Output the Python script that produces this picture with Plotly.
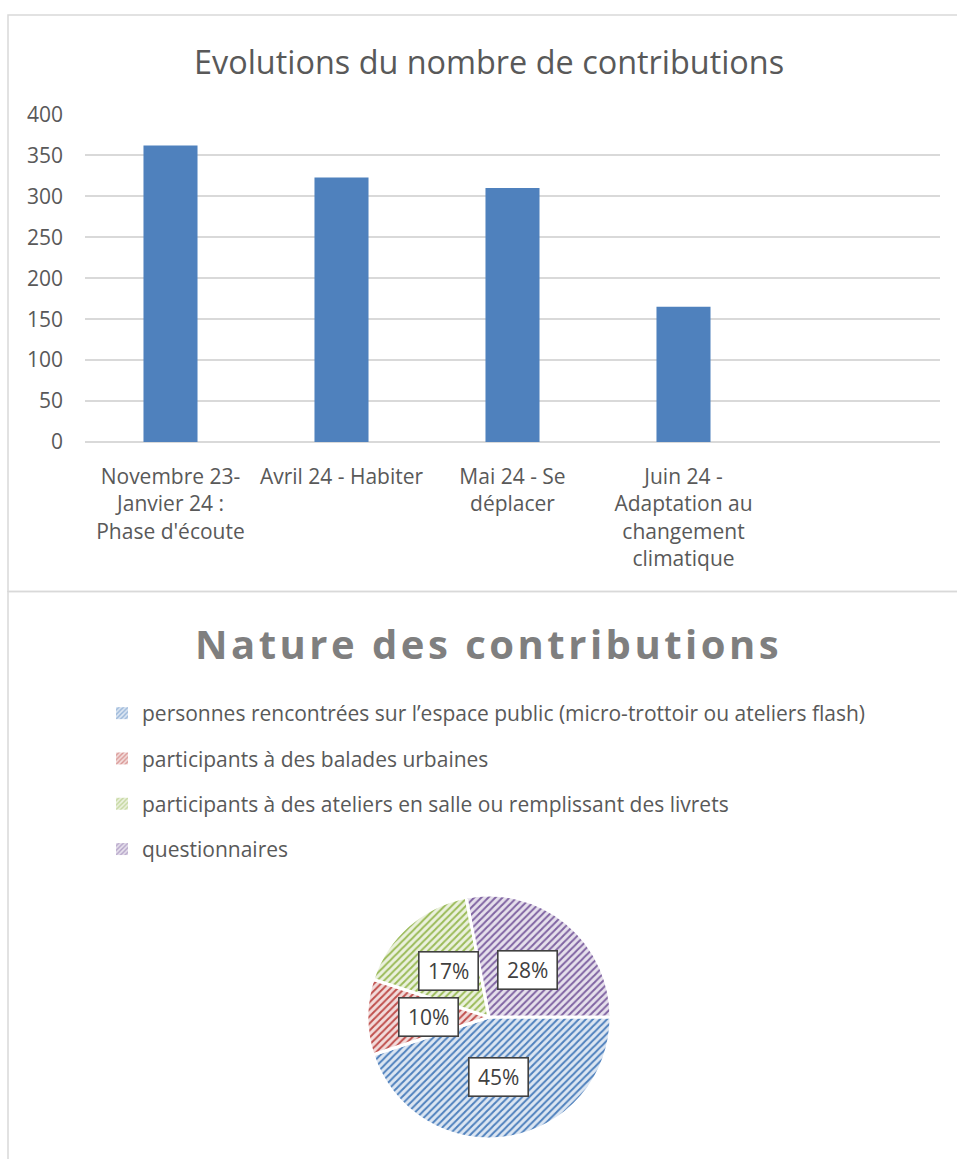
import math
import plotly.graph_objects as go

# ---------------- data ----------------
bar_categories = [
    "Novembre 23-<br>Janvier 24 :<br>Phase d'écoute",
    "Avril 24 - Habiter",
    "Mai 24 - Se<br>déplacer",
    "Juin 24 -<br>Adaptation au<br>changement<br>climatique",
]
bar_values = [362, 323, 310, 165]
y_ticks = [0, 50, 100, 150, 200, 250, 300, 350, 400]

pie_labels = [
    "personnes rencontrées sur l’espace public (micro-trottoir ou ateliers flash)",
    "participants à des balades urbaines",
    "participants à des ateliers en salle ou remplissant des livrets",
    "questionnaires",
]
pie_values = [45, 10, 17, 28]
pie_fg = ["#4F81BD", "#C0504D", "#9BBB59", "#8064A2"]
pie_bg = ["#DCE6F2", "#F2DCDB", "#EBF1DE", "#E6E0EC"]

title_bar = "Evolutions du nombre de contributions"
title_pie = "Nature des contributions"

# ---------------- layout constants ----------------
W, H = 957, 1159
FONT = "Open Sans"
TXT = "#595959"
GRID = "#D9D9D9"
FS = 21


def px_x(v):
    return v / W


def px_y(v):
    return 1 - v / H


fig = go.Figure()

fig.add_trace(go.Bar(
    x=bar_categories, y=bar_values,
    marker=dict(color="#4F81BD", line=dict(width=0)),
    showlegend=False, hoverinfo="x+y",
))

pie_dom_x = [px_x(367), px_x(611)]
pie_dom_y = [px_y(1139), px_y(895)]

fig.add_trace(go.Pie(
    labels=pie_labels, values=pie_values,
    domain=dict(x=pie_dom_x, y=pie_dom_y),
    sort=False, direction="clockwise", rotation=90,
    marker=dict(
        colors=pie_bg,
        line=dict(color="white", width=3),
        pattern=dict(shape="/", fgcolor=pie_fg, bgcolor=pie_bg, size=5, solidity=0.4),
    ),
    textinfo="none", showlegend=False, hoverinfo="label+percent",
))

# legend entries (hidden axes) so items can be spaced like the original
for lab, fg, bg in zip(pie_labels, pie_fg, pie_bg):
    fig.add_trace(go.Bar(
        x=[None], y=[None], name=lab, xaxis="x2", yaxis="y2",
        legendgroup=lab, showlegend=True,
        marker=dict(color=bg, line=dict(width=0),
                    pattern=dict(shape="/", fgcolor=fg, bgcolor=bg, size=4, solidity=0.45)),
    ))

# percentage boxes placed at the middle angle of each slice, half radius
cx = (pie_dom_x[0] + pie_dom_x[1]) / 2 * W
cy = (1 - (pie_dom_y[0] + pie_dom_y[1]) / 2) * H
R = min((pie_dom_x[1] - pie_dom_x[0]) * W, (pie_dom_y[1] - pie_dom_y[0]) * H) / 2
total = sum(pie_values)
start = 0.0
annotations = []
for v in pie_values:
    frac = v / total
    mid = start + frac * 360 / 2
    start += frac * 360
    ang = math.radians(mid)  # clockwise from 3 o'clock
    x = cx + 0.5 * R * math.cos(ang)
    y = cy + 0.5 * R * math.sin(ang)
    annotations.append(dict(
        x=px_x(x), y=px_y(y), xref="paper", yref="paper",
        xanchor="center", yanchor="middle",
        text=f"{round(frac * 100)}%", showarrow=False,
        font=dict(family=FONT, size=FS, color="#404040"),
        width=52, height=31,
        bgcolor="white", bordercolor="#404040", borderwidth=1.6, borderpad=3,
    ))

annotations.append(dict(
    x=px_x(489), y=px_y(61), xref="paper", yref="paper", text=title_bar,
    xanchor="center", yanchor="middle",
    showarrow=False, font=dict(family=FONT, size=32.4, color=TXT),
))
annotations.append(dict(
    x=px_x(488), y=px_y(643), xref="paper", yref="paper",
    xanchor="center", yanchor="middle",
    text=f"<b><span style='letter-spacing:3.5px'>{title_pie}</span></b>",
    showarrow=False, font=dict(family=FONT, size=40, color="#7F7F7F"),
))

shapes = [
    dict(type="rect", xref="paper", yref="paper", x0=px_x(8), x1=px_x(970),
         y0=px_y(591.5), y1=px_y(15), line=dict(color=GRID, width=1.5)),
    dict(type="rect", xref="paper", yref="paper", x0=px_x(8), x1=px_x(970),
         y0=px_y(1175), y1=px_y(591.5), line=dict(color=GRID, width=1.5)),
]

fig.update_layout(
    width=W, height=H, margin=dict(l=0, r=0, t=0, b=0, pad=0, autoexpand=False),
    paper_bgcolor="white", plot_bgcolor="white",
    font=dict(family=FONT, size=FS, color=TXT),
    bargap=0.684,
    xaxis=dict(domain=[px_x(85), px_x(940)], range=[-0.5, 4.5], type="category",
               showgrid=False, showline=False, ticks="", ticklabelstandoff=20,
               automargin=False,
               tickfont=dict(family=FONT, size=FS, color=TXT), fixedrange=True),
    yaxis=dict(domain=[px_y(442), px_y(114.4)], range=[0, 400], tickvals=y_ticks,
               showgrid=True, gridcolor=GRID, gridwidth=1.5, zeroline=True,
               zerolinecolor=GRID, zerolinewidth=1.5, showline=False, ticks="",
               automargin=False,
               ticklabelstandoff=21, tickfont=dict(family=FONT, size=FS, color=TXT),
               fixedrange=True),
    xaxis2=dict(domain=[0, 0.01], visible=False, automargin=False),
    yaxis2=dict(domain=[0, 0.01], visible=False, automargin=False),
    legend=dict(x=px_x(102), y=px_y(693), xanchor="left", yanchor="top",
                orientation="v", traceorder="grouped", tracegroupgap=15,
                font=dict(family=FONT, size=FS, color=TXT), bgcolor="rgba(0,0,0,0)"),
    annotations=annotations, shapes=shapes,
)

fig.write_html(
    "out.html",
    config={"displayModeBar": False},
    post_script="document.body.style.margin='0';document.body.style.overflow='hidden';",
)
